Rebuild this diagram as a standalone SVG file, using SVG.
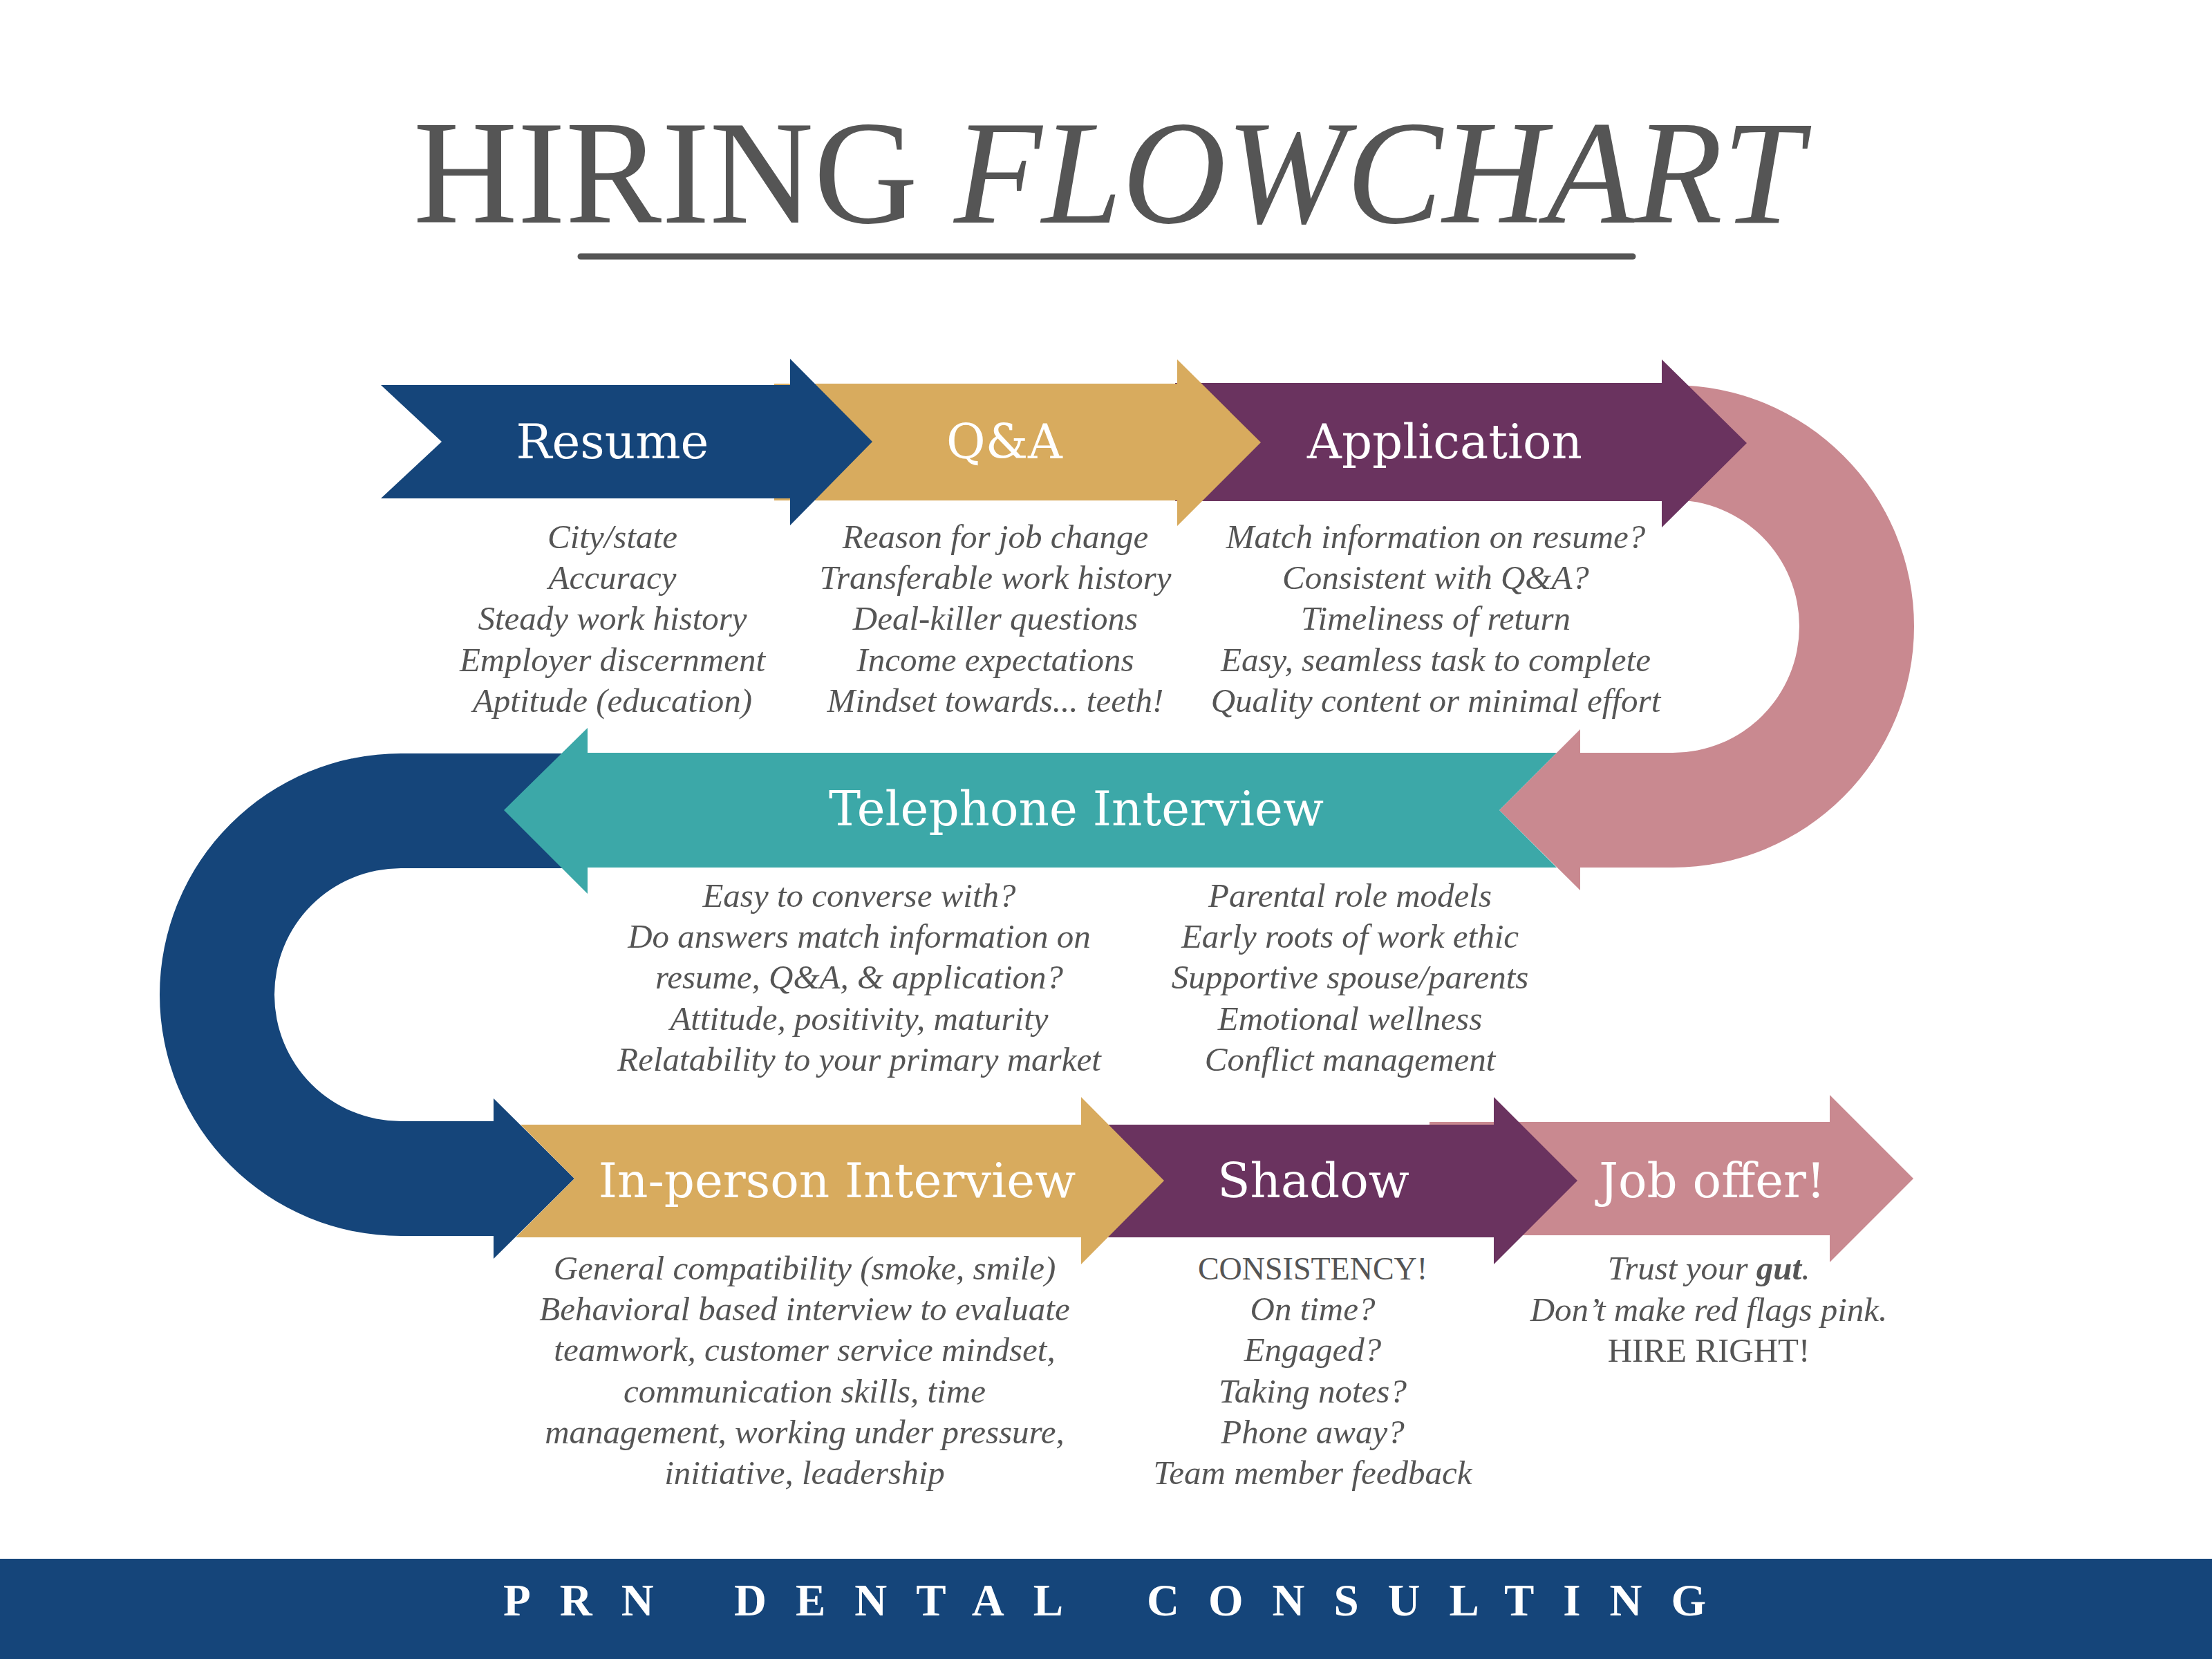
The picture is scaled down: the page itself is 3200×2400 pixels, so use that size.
<svg xmlns="http://www.w3.org/2000/svg" width="3200" height="2400" viewBox="0 0 3200 2400">
<style>
.lbl{font-family:"DejaVu Serif","Liberation Serif",serif;font-size:69px;fill:#ffffff;text-anchor:middle}
.body{font-family:"Liberation Serif",serif;font-style:italic;font-size:49px;fill:#555555;text-anchor:middle}
.up{font-style:normal}
.blue{fill:#15457A}.gold{fill:#D8AB5E}.purple{fill:#6A335F}.pink{fill:#C98990}.teal{fill:#3CA8A8}
.foot{font-family:"Liberation Serif",serif;font-weight:bold;font-size:65px;fill:#ffffff;letter-spacing:42px}
</style>
<rect x="0" y="0" width="3200" height="2400" fill="#ffffff"/>

<g id="title">
<text x="1603" y="322" font-family="Liberation Serif, serif" font-size="215" fill="#555555" text-anchor="middle" textLength="2010" lengthAdjust="spacingAndGlyphs">HIRING <tspan font-style="italic">FLOWCHART</tspan></text>
<line x1="840" y1="371" x2="2362" y2="371" stroke="#555555" stroke-width="9" stroke-linecap="round"/>
</g>

<g id="connectors">
<path id="uturn-right" class="pink" d="M2300 557 L2420 557 A349 349 0 0 1 2420 1255 L2286 1255 L2286 1288 L2169 1172 L2286 1055 L2286 1089 L2420 1089 A183 183 0 0 0 2420 723 L2300 723 Z"/>
<path id="uturn-left" class="blue" d="M840 1090 L580 1090 A349 349 0 0 0 580 1788 L714 1788 L714 1821 L831 1705 L714 1589 L714 1622 L580 1622 A183 183 0 0 1 580 1256 L840 1256 Z"/>
</g>

<g id="node-joboffer">
<polygon class="pink" points="2068,1623 2647,1623 2647,1584 2768,1705 2647,1826 2647,1787 2068,1787"/>
<text class="lbl" x="2477" y="1732">Job offer!</text>
<text class="body" x="2472" y="1851">Trust your <tspan font-weight="bold">gut</tspan>.<tspan x="2472" dy="59.5">Don’t make red flags pink.</tspan><tspan class="up" x="2472" dy="59.5">HIRE RIGHT!</tspan></text>
</g>

<g id="node-shadow">
<polygon class="purple" points="1560,1627 2161,1627 2161,1587 2282,1708 2161,1829 2161,1790 1560,1790"/>
<text class="lbl" x="1900" y="1732">Shadow</text>
<text class="body" x="1899" y="1851"><tspan class="up" font-size="46">CONSISTENCY!</tspan><tspan x="1899" dy="59.2">On time?</tspan><tspan x="1899" dy="59.2">Engaged?</tspan><tspan x="1899" dy="59.2">Taking notes?</tspan><tspan x="1899" dy="59.2">Phone away?</tspan><tspan x="1899" dy="59.2">Team member feedback</tspan></text>
</g>

<g id="node-inperson">
<polygon class="gold" points="753,1627 1564,1627 1564,1587 1684,1708 1564,1829 1564,1790 746,1790 831,1705"/>
<text class="lbl" x="1211" y="1732">In-person Interview</text>
<text class="body" x="1164" y="1851">General compatibility (smoke, smile)<tspan x="1164" dy="59.2">Behavioral based interview to evaluate</tspan><tspan x="1164" dy="59.2">teamwork, customer service mindset,</tspan><tspan x="1164" dy="59.2">communication skills, time</tspan><tspan x="1164" dy="59.2">management, working under pressure,</tspan><tspan x="1164" dy="59.2">initiative, leadership</tspan></text>
</g>

<g id="node-telephone">
<polygon class="teal" points="2252,1089 850,1089 850,1053 729,1172 850,1293 850,1255 2252,1255 2169,1172"/>
<text class="lbl" x="1557" y="1194">Telephone Interview</text>
<text class="body" x="1243" y="1312">Easy to converse with?<tspan x="1243" dy="59.2">Do answers match information on</tspan><tspan x="1243" dy="59.2">resume, Q&amp;A, &amp; application?</tspan><tspan x="1243" dy="59.2">Attitude, positivity, maturity</tspan><tspan x="1243" dy="59.2">Relatability to your primary market</tspan></text>
<text class="body" x="1953" y="1312">Parental role models<tspan x="1953" dy="59.2">Early roots of work ethic</tspan><tspan x="1953" dy="59.2">Supportive spouse/parents</tspan><tspan x="1953" dy="59.2">Emotional wellness</tspan><tspan x="1953" dy="59.2">Conflict management</tspan></text>
</g>

<g id="node-application">
<polygon class="purple" points="1700,554 2404,554 2404,520 2527,641 2404,763 2404,725 1700,725"/>
<text class="lbl" x="2090" y="663">Application</text>
<text class="body" x="2077" y="793">Match information on resume?<tspan x="2077" dy="59.2">Consistent with Q&amp;A?</tspan><tspan x="2077" dy="59.2">Timeliness of return</tspan><tspan x="2077" dy="59.2">Easy, seamless task to complete</tspan><tspan x="2077" dy="59.2">Quality content or minimal effort</tspan></text>
</g>

<g id="node-qa">
<polygon class="gold" points="1120,555 1703,555 1703,520 1824,640 1703,761 1703,724 1120,724"/>
<text class="lbl" x="1453" y="663">Q&amp;A</text>
<text class="body" x="1440" y="793">Reason for job change<tspan x="1440" dy="59.2">Transferable work history</tspan><tspan x="1440" dy="59.2">Deal-killer questions</tspan><tspan x="1440" dy="59.2">Income expectations</tspan><tspan x="1440" dy="59.2">Mindset towards... teeth!</tspan></text>
</g>

<g id="node-resume">
<polygon class="blue" points="551,557 1143,557 1143,519 1262,639 1143,760 1143,721 551,721 639,639"/>
<text class="lbl" x="886" y="663">Resume</text>
<text class="body" x="886" y="793">City/state<tspan x="886" dy="59.2">Accuracy</tspan><tspan x="886" dy="59.2">Steady work history</tspan><tspan x="886" dy="59.2">Employer discernment</tspan><tspan x="886" dy="59.2">Aptitude (education)</tspan></text>
</g>

<g id="footer">
<rect class="blue" x="0" y="2255" width="3200" height="145"/>
<text class="foot" x="728" y="2337">PRN</text>
<text class="foot" x="1062" y="2337">DENTAL</text>
<text class="foot" x="1659" y="2337">CONSULTING</text>
</g>
</svg>
